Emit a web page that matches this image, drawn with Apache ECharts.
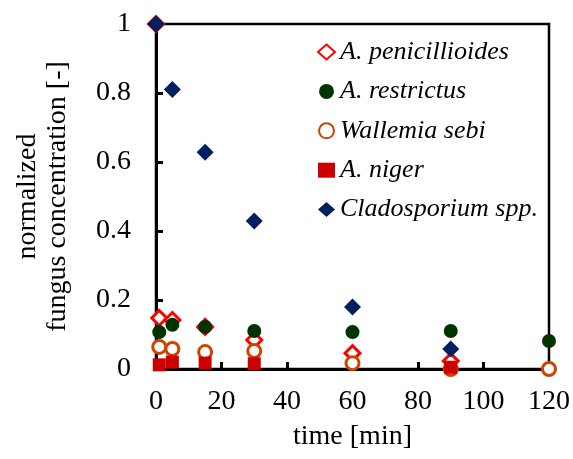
<!DOCTYPE html>
<html>
<head>
<meta charset="utf-8">
<script src="https://cdn.jsdelivr.net/npm/echarts@6/dist/echarts.min.js"></script>
<style>
  html, body { margin: 0; padding: 0; background: #fff; }
  #chart { width: 573px; height: 459px; }
</style>
</head>
<body>
<div id="chart"></div>
<script>
// 各菌の正規化濃度 [time(min), value]
const seriesNames = ['A. penicillioides', 'A. restrictus', 'Wallemia sebi', 'A. niger', 'Cladosporium spp.'];
const penicillioides = [[0, 1], [1, 0.148], [5, 0.142], [15, 0.122], [30, 0.084], [60, 0.046], [90, 0.023]];
const restrictus = [[1, 0.107], [5, 0.128], [15, 0.122], [30, 0.11], [60, 0.107], [90, 0.11], [120, 0.081]];
const wallemia = [[1, 0.064], [5, 0.058], [15, 0.049], [30, 0.052], [60, 0.017], [90, 0], [120, 0]];
const niger = [[1, 0.012], [5, 0.02], [15, 0.017], [30, 0.015], [90, 0.005]];
const cladosporium = [[0, 1], [5, 0.81], [15, 0.628], [30, 0.429], [60, 0.18], [90, 0.058]];

const serif = 'Liberation Serif';

let chart = echarts.init(document.getElementById('chart'));

function scatter(name, data, symbol, size, itemStyle) {
  return {
    name: name,
    type: 'scatter',
    data: data,
    symbol: symbol,
    symbolSize: size,
    itemStyle: itemStyle,
    clip: false,
  };
}

chart.setOption({
  animation: false,
  grid: {
    left: 156,
    right: 23,
    top: 24,
    bottom: 90,
    show: true,
    borderColor: '#000',
    borderWidth: 2.5,
  },
  legend: {
    orient: 'vertical',
    left: 317,
    top: 39,
    padding: 0,
    itemWidth: 17,
    itemHeight: 15,
    itemGap: 13.4,
    textStyle: {
      fontFamily: serif,
      fontStyle: 'italic',
      fontSize: 26,
      lineHeight: 26,
      color: '#000',
    },
    data: seriesNames,
  },
  xAxis: {
    type: 'value',
    min: 0,
    max: 120,
    interval: 20,
    name: 'time [min]',
    nameLocation: 'middle',
    nameGap: 54,
    nameTextStyle: {fontFamily: serif, fontSize: 28, color: '#000'},
    axisLine: {lineStyle: {color: '#000', width: 3}},
    axisTick: {inside: true, length: 7, lineStyle: {color: '#000', width: 3}},
    axisLabel: {fontFamily: serif, fontSize: 28, color: '#000', margin: 19},
    splitLine: {show: false},
  },
  yAxis: {
    type: 'value',
    min: 0,
    max: 1,
    interval: 0.2,
    name: 'normalized\nfungus concentration [-]',
    nameLocation: 'middle',
    nameRotate: 90,
    nameGap: 83,
    nameTextStyle: {fontFamily: serif, fontSize: 28, lineHeight: 30, color: '#000'},
    axisLine: {lineStyle: {color: '#000', width: 3}},
    axisTick: {inside: true, length: 7, lineStyle: {color: '#000', width: 3}},
    axisLabel: {fontFamily: serif, fontSize: 28, color: '#000', margin: 25},
    splitLine: {show: false},
  },
  series: [
    scatter(seriesNames[0], penicillioides, 'diamond', 15, {color: '#fff', borderColor: '#ff0000', borderWidth: 3, opacity: 1}),
    scatter(seriesNames[1], restrictus, 'circle', 14, {color: '#003300', opacity: 1}),
    scatter(seriesNames[2], wallemia, 'circle', 13, {color: '#fff', borderColor: '#cc4400', borderWidth: 3, opacity: 1}),
    scatter(seriesNames[3], niger, 'rect', 13, {color: '#cc0000', opacity: 1}),
    scatter(seriesNames[4], cladosporium, 'diamond', 17, {color: '#002060', opacity: 1}),
  ],
});
</script>
</body>
</html>
